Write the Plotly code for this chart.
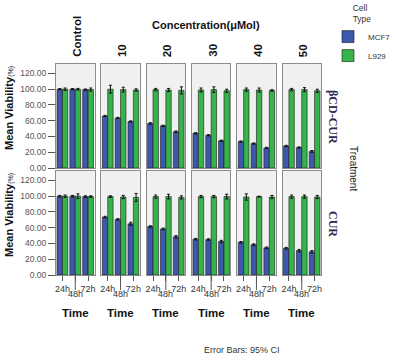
import plotly.graph_objects as go

W, H = 397, 363

concentrations = ["Control", "10", "20", "30", "40", "50"]
treatments = ["βCD-CUR", "CUR"]
times = ["24h", "48h", "72h"]
cell_types = ["MCF7", "L929"]
y_tickvals = [0, 20, 40, 60, 80, 100, 120]
y_ticktext = ["0.00", "20.00", "40.00", "60.00", "80.00", "100.00", "120.00"]

# Mean viability (%) per concentration, per time (24h, 48h, 72h)
bcd_mcf7 = [[100, 100, 99.5], [66, 63.5, 59], [56.5, 53.5, 46], [44, 41.5, 34.5], [33.5, 31, 25.5], [28, 26, 21]]
bcd_mcf7_err = [[0.8, 0.8, 0.8], [0.8, 0.8, 0.8], [1, 0.8, 1], [0.8, 0.8, 0.8], [0.8, 0.8, 0.8], [0.8, 0.8, 1.2]]
bcd_l929 = [[100, 100, 99.5], [100, 99.5, 99], [99.5, 99, 98.5], [99, 99.5, 98], [99.5, 99, 98.5], [99.5, 99.5, 98]]
bcd_l929_err = [[1.5, 1, 2], [5, 3, 1.5], [1.5, 2, 4.5], [2.5, 3.5, 2], [2, 2.5, 1], [1.5, 2.5, 2]]

cur_mcf7 = [[100, 100, 99.5], [73.5, 70.5, 65], [61.5, 58.5, 48.5], [45.5, 45, 42.5], [41.5, 38.5, 34.5], [34, 31, 29.5]]
cur_mcf7_err = [[1, 1, 1], [1, 1, 2], [1, 1, 1.5], [1, 1, 1.5], [1, 1, 1], [1, 1.5, 1.5]]
cur_l929 = [[100, 100, 99.5], [99.5, 99, 98.5], [99.5, 99.5, 98.5], [99.5, 99.5, 99.5], [99, 99.5, 99], [99.5, 99.5, 99]]
cur_l929_err = [[1.5, 3, 1], [1, 2, 5], [2, 3, 2], [1.5, 1.5, 3], [4, 0.5, 2], [2, 2, 2]]

data = {
    "βCD-CUR": {"MCF7": (bcd_mcf7, bcd_mcf7_err), "L929": (bcd_l929, bcd_l929_err)},
    "CUR": {"MCF7": (cur_mcf7, cur_mcf7_err), "L929": (cur_l929, cur_l929_err)},
}
colors = {"MCF7": "#3E58AC", "L929": "#36B34A"}

# geometry (pixels)
col_left = [56 + i * 45.3 for i in range(6)]
col_w = 38.5
row_top = [64, 171]
row_h = 104

FONT = "Liberation Sans, Arial, sans-serif"
fig = go.Figure()
layout = {}
annotations = []
shapes = []

def ann(text, x, y, size, angle=0, xanchor="center", yanchor="middle", family=FONT, color="#111", xref="paper"):
    return dict(text=text, xref=xref, x=x, yref="paper", y=y, xanchor=xanchor, yanchor=yanchor,
                textangle=angle, showarrow=False, font=dict(family=family, size=size, color=color))

for r, tr in enumerate(treatments):
    for c, conc in enumerate(concentrations):
        k = r * 6 + c + 1
        xs = "" if k == 1 else str(k)
        for ct in cell_types:
            vals, errs = data[tr][ct]
            fig.add_trace(go.Bar(
                x=times, y=vals[c], name=ct,
                marker=dict(color=colors[ct], line=dict(color="#1a1a1a", width=0.6)),
                error_y=dict(type="data", array=errs[c], color="#111", thickness=1, width=1.5),
                xaxis="x" + xs, yaxis="y" + xs,
                legendgroup=ct, showlegend=(k == 1), offsetgroup=ct,
            ))
        x0 = col_left[c] / W
        x1 = (col_left[c] + col_w) / W
        y1 = 1 - row_top[r] / H
        y0 = 1 - (row_top[r] + row_h) / H
        bottom = (r == 1)
        layout["xaxis" + xs] = dict(
            domain=[x0, x1], anchor="y" + xs, type="category",
            categoryorder="array", categoryarray=times, automargin=False,
            range=[-0.5, 2.5], showline=True, mirror=True, linecolor="#8c8c8c", linewidth=1.2,
            showgrid=False, zeroline=False, tickangle=0,
            ticks="outside" if bottom else "", ticklen=5, tickcolor="#555",
            tickvals=times, ticktext=[t if t != "48h" else "" for t in times], showticklabels=bottom,
            tickfont=dict(family=FONT, size=9, color="#333"),
        )
        left = (c == 0)
        layout["yaxis" + xs] = dict(
            domain=[y0, y1], anchor="x" + xs, range=[0, 132], automargin=False,
            showline=True, mirror=True, linecolor="#8c8c8c", linewidth=1.2,
            showgrid=False, zeroline=False,
            ticks="outside" if left else "", ticklen=7, tickcolor="#555",
            tickvals=y_tickvals, ticktext=y_ticktext, showticklabels=left,
            tickfont=dict(family=FONT, size=8.5, color="#555"),
        )
        if bottom:
            mid = times.index("48h")
            shapes.append(dict(type="line", xref="x" + xs, yref="y" + xs + " domain",
                               x0=mid, x1=mid, y0=0, y1=-15 / row_h,
                               line=dict(color="#555", width=1)))
            annotations.append(ann(times[mid], mid, 1 - 294 / H, 9, color="#333", xref="x" + xs))
            annotations.append(ann("<b>Time</b>", 0.5, 1 - 313 / H, 11.5, xref="x" + xs + " domain"))
        if r == 0:
            annotations.append(ann("<b>" + conc + "</b>", (col_left[c] + col_w / 2 + 2) / W,
                                   1 - 59 / H, 11.5, angle=-90, yanchor="bottom"))

# row labels and y titles
row_centers = [row_top[r] + row_h / 2 for r in range(2)]
for r, tr in enumerate(treatments):
    annotations.append(ann("<b>" + tr + "</b>", 333 / W, 1 - (row_centers[r] + 1) / H, 12, angle=90,
                           family="Liberation Serif, Times New Roman, serif", color="#2a2a55"))
    annotations.append(ann("<b>Mean Viability</b><span style='font-size:7px'>(%)</span>",
                           9 / W, 1 - (row_centers[r] - 8) / H, 11, angle=-90))

annotations.append(ann("<b>Concentration(μMol)</b>", 206 / W, 1 - 25 / H, 11))
annotations.append(ann("Treatment", 354 / W, 1 - 168 / H, 10, angle=90, color="#222"))
annotations.append(ann("Error Bars: 95% CI", 242 / W, 1 - 350 / H, 9, color="#333"))

fig.update_layout(
    width=W, height=H, margin=dict(l=0, r=0, t=0, b=0, autoexpand=False),
    paper_bgcolor="white", plot_bgcolor="#f0f0f0",
    barmode="group", bargap=0.16, bargroupgap=0,
    font=dict(family=FONT, color="#222"),
    legend=dict(x=328 / W, y=1, xanchor="left", yanchor="top",
                title=dict(text="Cell<br>Type", side="top center", font=dict(size=8.5, color="#333")),
                font=dict(size=8, color="#333"), bgcolor="rgba(0,0,0,0)",
                tracegroupgap=0, itemwidth=30),
    annotations=annotations, shapes=shapes,
    **layout,
)

fig.write_html("out.html", config={"displayModeBar": False},
               post_script="document.body.style.margin='0';")
